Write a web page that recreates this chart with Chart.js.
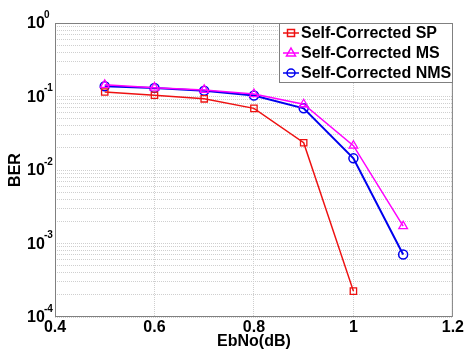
<!DOCTYPE html>
<html>
<head>
<meta charset="utf-8">
<script src="https://cdn.jsdelivr.net/npm/chart.js@4"></script>
<style>
  html, body { margin: 0; padding: 0; background: #fff; }
  #wrap { width: 465px; height: 351px; }
</style>
</head>
<body>
<div id="wrap"><canvas id="myChart"></canvas></div>
<script>
const ebno = [0.5, 0.6, 0.7, 0.8, 0.9, 1.0, 1.1];
const berSP = [0.115, 0.104, 0.093, 0.069, 0.0235, 0.000225];
const berMS = [0.144, 0.132, 0.123, 0.108, 0.0785, 0.0214, 0.00172];
const berNMS = [0.138, 0.131, 0.120, 0.103, 0.069, 0.0144, 0.00071];
const xTicks = [0.4, 0.6, 0.8, 1.0, 1.2];
const yExponents = [-4, -3, -2, -1, 0];

const FONT = "Liberation Sans, Arial, sans-serif";

const toPoints = (ys) => ys.map((y, i) => ({ x: ebno[i], y: y }));

// box round the plot, y labels as 10^n, legend inside the plot
const matlabLook = {
    id: "matlabLook",
    afterDraw(chart) {
        const ctx = chart.ctx;
        const a = chart.chartArea;
        const yScale = chart.scales.y;
        ctx.save();
        ctx.strokeStyle = "#808080";
        ctx.lineWidth = 1;
        ctx.strokeRect(a.left + 0.5, a.top + 0.5, a.right - a.left - 1, a.bottom - a.top - 1);

        // y tick labels
        ctx.fillStyle = "#000";
        ctx.textBaseline = "middle";
        ctx.textAlign = "left";
        yExponents.forEach(e => {
            const py = yScale.getPixelForValue(Math.pow(10, e));
            ctx.font = "bold 16px " + FONT;
            ctx.fillText("10", 27, py + 1);
            ctx.font = "bold 10px " + FONT;
            ctx.fillText(String(e), 44, py - 8);
        });

        // legend
        const lx = 279, ly = 23, lw = 174, lh = 60;
        ctx.fillStyle = "#fff";
        ctx.fillRect(lx, ly, lw, lh);
        ctx.strokeStyle = "#808080";
        ctx.strokeRect(lx + 0.5, ly + 0.5, lw - 1, lh - 1);
        chart.data.datasets.forEach((ds, i) => {
            const cy = ly + 10 + i * 20;
            ctx.strokeStyle = ds.borderColor;
            ctx.lineWidth = 1.5;
            ctx.beginPath();
            ctx.moveTo(lx + 4, cy);
            ctx.lineTo(lx + 20, cy);
            ctx.stroke();
            ctx.beginPath();
            const cx = lx + 12;
            if (ds.pointStyle === "rect") {
                ctx.rect(cx - 3.5, cy - 3.5, 7, 7);
            } else if (ds.pointStyle === "triangle") {
                ctx.moveTo(cx, cy - 5);
                ctx.lineTo(cx + 4.5, cy + 3);
                ctx.lineTo(cx - 4.5, cy + 3);
                ctx.closePath();
            } else {
                ctx.arc(cx, cy, 4, 0, Math.PI * 2);
            }
            ctx.stroke();
            ctx.fillStyle = "#000";
            ctx.font = "bold 16px " + FONT;
            ctx.textAlign = "left";
            ctx.textBaseline = "middle";
            ctx.fillText(ds.label, lx + 22, cy + 1);
        });
        ctx.restore();
    }
};

new Chart("myChart", {
    type: "line",
    data: {
        datasets: [{
            label: "Self-Corrected SP",
            data: toPoints(berSP),
            borderColor: "#ee1111",
            backgroundColor: "transparent",
            borderWidth: 1.5,
            pointStyle: "rect",
            pointRadius: 4.5,
            pointBorderWidth: 1.3,
            pointBackgroundColor: "transparent",
            tension: 0
        }, {
            label: "Self-Corrected MS",
            data: toPoints(berMS),
            borderColor: "#ff00ff",
            backgroundColor: "transparent",
            borderWidth: 1.5,
            pointStyle: "triangle",
            pointRadius: 5,
            pointBorderWidth: 1.3,
            pointBackgroundColor: "transparent",
            tension: 0
        }, {
            label: "Self-Corrected NMS",
            data: toPoints(berNMS),
            borderColor: "#0000ee",
            backgroundColor: "transparent",
            borderWidth: 2,
            pointStyle: "circle",
            pointRadius: 4.5,
            pointBorderWidth: 1.5,
            pointBackgroundColor: "transparent",
            tension: 0
        }]
    },
    options: {
        responsive: true,
        maintainAspectRatio: false,
        animation: false,
        layout: { padding: { top: 23, right: 12, left: 0, bottom: 0 } },
        plugins: {
            legend: { display: false },
            tooltip: { enabled: false }
        },
        scales: {
            x: {
                type: "linear",
                min: 0.4,
                max: 1.2,
                afterBuildTicks: (scale) => { scale.ticks = xTicks.map(v => ({ value: v })); },
                afterFit: (scale) => { scale.height = 34; },
                ticks: {
                    color: "#000",
                    font: { family: FONT, size: 16, weight: "bold" },
                    padding: 1,
                    maxRotation: 0,
                    callback: (v) => String(Math.round(v * 10) / 10)
                },
                grid: { color: "#cfcfcf", drawTicks: false, lineWidth: 1 },
                border: { display: false, dash: [1, 1] },
                title: {
                    display: true,
                    text: "EbNo(dB)",
                    color: "#000",
                    font: { family: FONT, size: 16, weight: "bold" },
                    padding: { top: 0, bottom: 0 }
                }
            },
            y: {
                type: "logarithmic",
                min: 1e-4,
                max: 1,
                afterBuildTicks: (scale) => {
                    const t = [];
                    for (let e = -4; e <= 0; e++) {
                        for (let m = 1; m <= 9; m++) {
                            const v = m * Math.pow(10, e);
                            if (v <= 1) t.push({ value: v, major: m === 1 });
                        }
                    }
                    scale.ticks = t;
                },
                afterFit: (scale) => { scale.width = 55; },
                ticks: { display: false },
                grid: { color: "#cfcfcf", drawTicks: false, lineWidth: 1 },
                border: { display: false, dash: [1, 1] },
                title: {
                    display: true,
                    text: "BER",
                    color: "#000",
                    font: { family: FONT, size: 16, weight: "bold" },
                    padding: { top: 6, bottom: 0 }
                }
            }
        }
    },
    plugins: [matlabLook]
});
</script>
</body>
</html>
